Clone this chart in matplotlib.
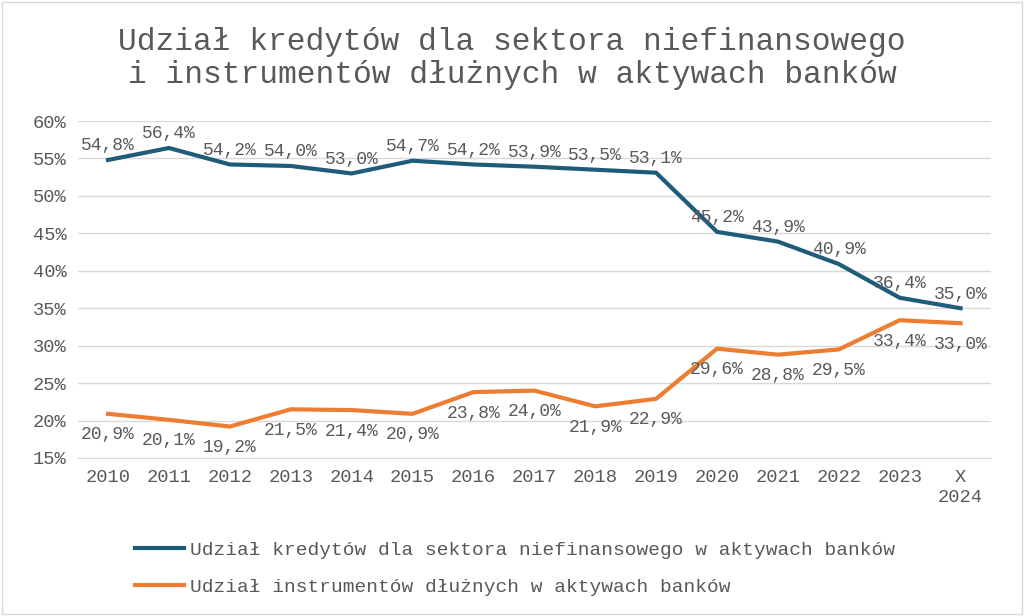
import matplotlib.pyplot as plt

years = ["2010", "2011", "2012", "2013", "2014", "2015", "2016", "2017",
         "2018", "2019", "2020", "2021", "2022", "2023", "X\n2024"]
loans = [54.8, 56.4, 54.2, 54.0, 53.0, 54.7, 54.2, 53.9, 53.5, 53.1,
         45.2, 43.9, 40.9, 36.4, 35.0]
debt = [20.9, 20.1, 19.2, 21.5, 21.4, 20.9, 23.8, 24.0, 21.9, 22.9,
        29.6, 28.8, 29.5, 33.4, 33.0]
yticks = [15, 20, 25, 30, 35, 40, 45, 50, 55, 60]

FONT = "Liberation Mono"
GRAY = "#595959"
BLUE = "#1f5c7a"
ORANGE = "#ed7d31"

fig = plt.figure(figsize=(10.24, 6.16), dpi=100)
ax = fig.add_axes([0.0758, 0.2565, 0.892, 0.547])
x = range(len(years))
ax.plot(x, loans, color=BLUE, lw=3, label="Udział kredytów dla sektora niefinansowego w aktywach banków")
ax.plot(x, debt, color=ORANGE, lw=3, label="Udział instrumentów dłużnych w aktywach banków")

for i, v in enumerate(loans):
    ax.annotate(f"{v:.1f}%".replace(".", ","), (i, v), xytext=(0, 7), textcoords="offset points",
                ha="center", fontsize=13, family=FONT, color=GRAY)
for i, v in enumerate(debt):
    ax.annotate(f"{v:.1f}%".replace(".", ","), (i, v), xytext=(0, -9), textcoords="offset points",
                ha="center", va="top", fontsize=13, family=FONT, color=GRAY)

ax.set_xlim(-0.5, len(years) - 0.5)
ax.set_ylim(15, 60)
ax.set_yticks(yticks)
ax.set_yticklabels([f"{t}%" for t in yticks])
ax.set_xticks(list(x))
ax.set_xticklabels(years)
ax.grid(axis="y", color="#d9d9d9", lw=1)
ax.set_axisbelow(True)
for s in ["top", "right", "left"]:
    ax.spines[s].set_visible(False)
ax.spines["bottom"].set_color("#d9d9d9")
ax.tick_params(length=0, labelsize=13.5, colors=GRAY, pad=8)
for lab in ax.get_xticklabels() + ax.get_yticklabels():
    lab.set_family(FONT)

fig.text(0.5, 0.905, "Udział kredytów dla sektora niefinansowego\ni instrumentów dłużnych w aktywach banków",
         ha="center", va="center", fontsize=22.5, family=FONT, color=GRAY, linespacing=1.15)
fig.legend(loc="upper left", bbox_to_anchor=(0.115, 0.15), frameon=False, ncol=1,
           prop={"family": FONT, "size": 14}, labelcolor=GRAY, handlelength=2.5,
           handletextpad=0.3, labelspacing=1.0)
fig.patches.append(plt.Rectangle((0.002, 0.003), 0.996, 0.994, transform=fig.transFigure,
                                 fill=False, edgecolor="#d9d9d9", lw=1))
fig.savefig("out.png", dpi=100)
